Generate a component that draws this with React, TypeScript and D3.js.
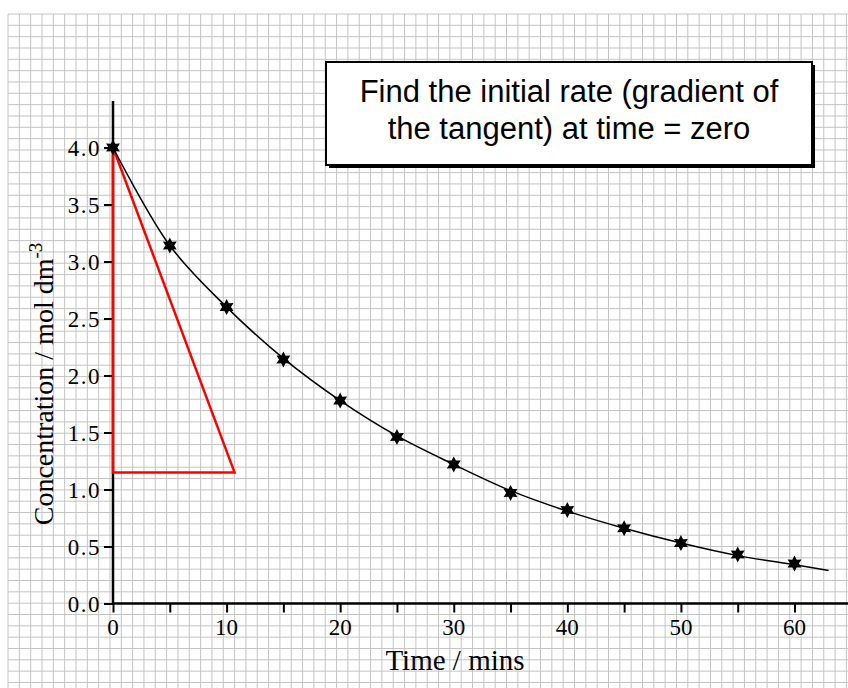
import React, { useEffect, useRef } from "react";
import * as d3 from "d3";

// readings taken every 5 minutes
const times = [0, 5, 10, 15, 20, 25, 30, 35, 40, 45, 50, 55, 60];
const conc = [4.0, 3.14, 2.6, 2.14, 1.78, 1.46, 1.22, 0.97, 0.82, 0.66, 0.53, 0.43, 0.35];
// best-fit curve drawn through the points (runs a little past the last one)
const curveTimes = [0, 5, 10, 15, 20, 25, 30, 35, 40, 45, 50, 55, 60, 63];
const curveConc = [4.0, 3.14, 2.6, 2.15, 1.78, 1.47, 1.22, 0.99, 0.81, 0.66, 0.53, 0.42, 0.34, 0.29];
// tangent triangle at t = 0
const tangentTimes = [0, 0, 10.7, 0];
const tangentConc = [4.0, 1.15, 1.15, 4.0];
const xTicks = [0, 5, 10, 15, 20, 25, 30, 35, 40, 45, 50, 55, 60];
const xLabels = [0, 10, 20, 30, 40, 50, 60];
const yTicks = [0, 0.5, 1.0, 1.5, 2.0, 2.5, 3.0, 3.5, 4.0];
const boxLines = ["Find the initial rate (gradient of", "the tangent) at time = zero"];

const width = 848;
const height = 688;

const starPath = (r: number) => {
	const pts: string[] = [];
	for (let i = 0; i < 12; i++) {
		const a = (Math.PI / 6) * i - Math.PI / 2;
		const rr = i % 2 === 0 ? r : r * 0.55;
		pts.push(`${(Math.cos(a) * rr).toFixed(2)},${(Math.sin(a) * rr).toFixed(2)}`);
	}
	return "M" + pts.join("L") + "Z";
};

const App = () => {
	const ref = useRef<SVGSVGElement>(null);

	useEffect(() => {
		const svg = d3.select(ref.current);
		svg.selectAll("*").remove();

		const x = d3.scaleLinear().domain([0, 60]).range([113, 794.5]);
		const y = d3.scaleLinear().domain([0, 4]).range([603.5, 147.5]);

		svg.append("rect").attr("width", width).attr("height", height).attr("fill", "#fff");

		// graph paper
		const step = 11.33;
		const grid = svg.append("g").attr("stroke", "#c4c4c4").attr("stroke-width", 1);
		grid
			.selectAll("line.v")
			.data(d3.range(8, width + 1, step))
			.join("line")
			.attr("class", "v")
			.attr("x1", (d) => d)
			.attr("x2", (d) => d)
			.attr("y1", 14)
			.attr("y2", height);
		grid
			.selectAll("line.h")
			.data(d3.range(14, height + 1, step))
			.join("line")
			.attr("class", "h")
			.attr("y1", (d) => d)
			.attr("y2", (d) => d)
			.attr("x1", 8)
			.attr("x2", width);

		const serif = "'Liberation Serif', 'Times New Roman', serif";

		// axes
		const xAxis = svg.append("g").attr("transform", `translate(0,${y(0)})`);
		xAxis
			.call(d3.axisBottom(x).tickValues(xTicks).tickSize(9).tickFormat(() => ""))
			.call((g) => g.select(".domain").remove());
		xAxis.selectAll(".tick line").attr("stroke", "#000").attr("stroke-width", 2);
		xAxis
			.append("line")
			.attr("x1", x(0) - 1)
			.attr("x2", width)
			.attr("stroke", "#000")
			.attr("stroke-width", 2.5);
		xAxis
			.selectAll("text.lab")
			.data(xLabels)
			.join("text")
			.attr("class", "lab")
			.attr("x", (d) => x(d))
			.attr("y", 31)
			.attr("text-anchor", "middle")
			.attr("font-family", serif)
			.attr("font-size", 23)
			.attr("fill", "#000")
			.text((d) => d);

		const yAxis = svg.append("g").attr("transform", `translate(${x(0)},0)`);
		yAxis
			.call(d3.axisLeft(y).tickValues(yTicks).tickSize(9).tickFormat((d) => d3.format(".1f")(d as number)))
			.call((g) => g.select(".domain").remove());
		yAxis.selectAll(".tick line").attr("stroke", "#000").attr("stroke-width", 2);
		yAxis
			.selectAll(".tick text")
			.attr("font-family", serif)
			.attr("font-size", 23)
			.attr("letter-spacing", 1.5)
			.attr("fill", "#000")
			.attr("x", -12)
			.attr("dy", "0.34em");
		yAxis
			.append("line")
			.attr("y1", y(0) + 1)
			.attr("y2", 101)
			.attr("stroke", "#000")
			.attr("stroke-width", 2.5);

		// axis titles
		svg
			.append("text")
			.attr("x", 455)
			.attr("y", 670)
			.attr("text-anchor", "middle")
			.attr("font-family", serif)
			.attr("font-size", 29)
			.text("Time / mins");
		const yt = svg
			.append("text")
			.attr("transform", "translate(53,384) rotate(-90)")
			.attr("text-anchor", "middle")
			.attr("font-family", serif)
			.attr("font-size", 28);
		yt.append("tspan").text("Concentration / mol dm");
		yt.append("tspan").attr("font-size", 19).attr("dy", -11).text("-3");

		// tangent triangle
		const tri = d3
			.line<number>()
			.x((i) => x(tangentTimes[i]))
			.y((i) => y(tangentConc[i]));
		svg
			.append("path")
			.attr("d", tri(d3.range(tangentTimes.length)))
			.attr("fill", "none")
			.attr("stroke", "#ff0000")
			.attr("stroke-width", 2.5)
			.attr("stroke-linejoin", "miter");

		// fitted curve
		const curve = d3
			.line<number>()
			.x((i) => x(curveTimes[i]))
			.y((i) => y(curveConc[i]))
			.curve(d3.curveCatmullRom.alpha(0.5));
		svg
			.append("path")
			.attr("d", curve(d3.range(curveTimes.length)))
			.attr("fill", "none")
			.attr("stroke", "#000")
			.attr("stroke-width", 1.5);

		// data points
		svg
			.append("g")
			.selectAll("path")
			.data(times)
			.join("path")
			.attr("transform", (d, i) => `translate(${x(d)},${y(conc[i])})`)
			.attr("d", starPath(8))
			.attr("fill", "#000");

		// callout box
		const box = svg.append("g");
		box.append("rect").attr("x", 329).attr("y", 65).attr("width", 486).attr("height", 103).attr("fill", "#000");
		box
			.append("rect")
			.attr("x", 326)
			.attr("y", 62)
			.attr("width", 486)
			.attr("height", 103)
			.attr("fill", "#fff")
			.attr("stroke", "#000")
			.attr("stroke-width", 2);
		box
			.selectAll("text")
			.data(boxLines)
			.join("text")
			.attr("x", 569)
			.attr("y", (d, i) => 102 + i * 37)
			.attr("text-anchor", "middle")
			.attr("font-family", "'Liberation Sans', Arial, sans-serif")
			.attr("font-size", 31)
			.attr("fill", "#000")
			.text((d) => d);
	}, []);

	return (
		<svg
			ref={ref}
			width={width}
			height={height}
			style={{ position: "absolute", left: 0, top: 0, display: "block" }}
		/>
	);
};

export default App;
